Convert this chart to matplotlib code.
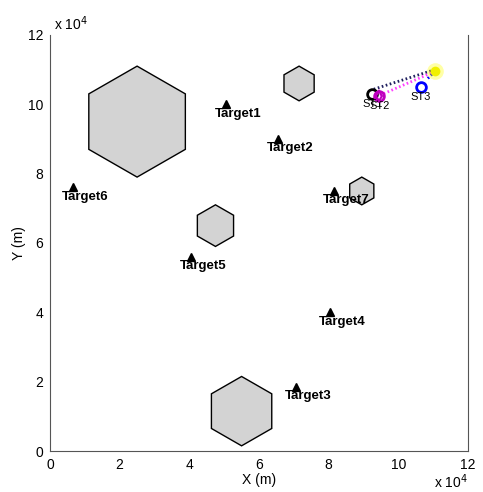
import numpy as np
import matplotlib
matplotlib.use('Agg')
import matplotlib.pyplot as plt
from matplotlib.patches import RegularPolygon

plt.rcParams['font.family'] = ['Liberation Sans', 'DejaVu Sans']
plt.rcParams['font.size'] = 10

# obstacles: centre x, centre y, radius (units of 1e4 m)
obs_x = [2.5, 7.15, 4.75, 8.95, 5.5]
obs_y = [9.5, 10.6, 6.5, 7.5, 1.15]
obs_r = [1.6, 0.5, 0.6, 0.4, 1.0]

# targets
tgt_names = ['Target1', 'Target2', 'Target3', 'Target4', 'Target5', 'Target6', 'Target7']
tgt_x = [5.05, 6.55, 7.05, 8.05, 4.05, 0.65, 8.15]
tgt_y = [10.0, 9.0, 1.85, 4.0, 5.6, 7.6, 7.5]

# sensors
st_names = ['ST1', 'ST2', 'ST3']
st_x = [9.25, 9.45, 10.65]
st_y = [10.3, 10.25, 10.5]
st_col = ['k', 'm', 'b']

# source point
src_x, src_y = 11.05, 10.95

fig = plt.figure(figsize=(4.83, 4.92), dpi=100)
ax = fig.add_axes([0.1035, 0.0833, 0.8655, 0.8457])

for cx, cy, r in zip(obs_x, obs_y, obs_r):
    hexa = RegularPolygon((cx, cy), 6, radius=r, orientation=0,
                          facecolor='#d3d3d3', edgecolor='k', lw=1, clip_on=False, zorder=2)
    ax.add_patch(hexa)

for name, x, y in zip(tgt_names, tgt_x, tgt_y):
    ax.plot(x, y, '^', color='k', ms=6, zorder=4)
    ax.text(x - 0.32, y - 0.27, name, fontweight='bold', fontsize=9.5,
            ha='left', va='center', zorder=5)

# paths from the source towards the sensors
ax.plot([src_x, st_x[0]], [src_y + 0.05, st_y[0] + 0.12], color='#202060', lw=2,
        ls=(0, (0.6, 0.9)), zorder=3)
ax.plot([src_x, st_x[1]], [src_y, st_y[1]], color='#ff40ff', lw=2,
        ls=(0, (0.6, 0.9)), zorder=3)
ax.plot([src_x, 10.8], [src_y, 10.7], color='b', lw=2, ls=(0, (0.6, 0.9)), zorder=3)

ax.plot(src_x, src_y, 'o', color='#ffff00', ms=12, alpha=0.35, mec='none', zorder=5)
ax.plot(src_x, src_y, 'o', color='#f0f000', ms=7, mec='none', zorder=6)

for name, x, y, c in zip(st_names, st_x, st_y, st_col):
    ax.plot(x, y, 'o', mfc='none', mec=c, mew=2, ms=7, zorder=6)
    ax.text(x, y - 0.3, name, fontsize=8, ha='center', va='center', zorder=7)
ax.plot(st_x[1], st_y[1], 'd', mfc='none', mec='m', mew=1.5, ms=5, zorder=7)

ax.set_xlim(0, 12)
ax.set_ylim(0, 12)
ax.set_xticks(np.arange(0, 13, 2))
ax.set_yticks(np.arange(0, 13, 2))
ax.tick_params(length=0, labelsize=10, pad=5)
ax.spines['top'].set_visible(False)
for s in ['left', 'bottom', 'right']:
    ax.spines[s].set_color('#555555')

ax.set_xlabel('X (m)', labelpad=1)
ax.set_ylabel('Y (m)', labelpad=1)
ax.text(0.01, 1.005, r'x 10$^4$', transform=ax.transAxes, ha='left', va='bottom', fontsize=10)
ax.text(1.0, -0.052, r'x 10$^4$', transform=ax.transAxes, ha='right', va='top', fontsize=10)

fig.savefig('out.png', dpi=100)
